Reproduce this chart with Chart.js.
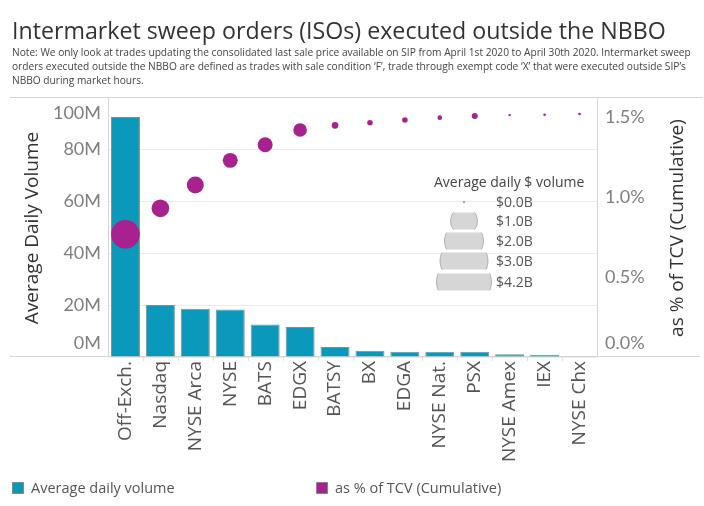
<!DOCTYPE html>
<html>
<head>
<meta charset="utf-8">
<script src="https://cdn.jsdelivr.net/npm/chart.js@4.4.1/dist/chart.umd.min.js"></script>
<style>
  html, body { margin:0; padding:0; background:#fff; }
  #wrap { position:relative; width:704px; height:506px; overflow:hidden; font-family:"Open Sans", Lato, sans-serif; }
  #c { position:absolute; left:0; top:0; }
  #title { position:absolute; left:12px; top:14px; font-size:23.2px; color:#333; white-space:nowrap; }
  #note { position:absolute; left:12px; top:45px; font-size:10.18px; line-height:14px; color:#444; white-space:nowrap; }
  .lg { position:absolute; top:478px; font-size:14.5px; color:#555; white-space:nowrap; }
  .sw { display:inline-block; width:10px; height:10px; border:1px solid #888; vertical-align:-1px; margin-right:7px; }
</style>
</head>
<body>
<div id="wrap">
  <canvas id="c" width="704" height="506"></canvas>
  <div id="title">Intermarket sweep orders (ISOs) executed outside the NBBO</div>
  <div id="note">Note: We only look at trades updating the consolidated last sale price available on SIP from April 1st 2020 to April 30th 2020. Intermarket sweep<br>orders executed outside the NBBO are defined as trades with sale condition ‘F’, trade through exempt code ‘X’ that were executed outside SIP’s<br>NBBO during market hours.</div>
  <div class="lg" style="left:12px"><span class="sw" style="background:#0a99bb"></span>Average daily volume</div>
  <div class="lg" style="left:316px"><span class="sw" style="background:#a8228f"></span>as % of TCV (Cumulative)</div>
</div>
<script>
// ---- data ----
const categories = ["Off-Exch.","Nasdaq","NYSE Arca","NYSE","BATS","EDGX","BATSY","BX","EDGA","NYSE Nat.","PSX","NYSE Amex","IEX","NYSE Chx"];
const avgDailyVolumeM = [92.3, 20.0, 18.6, 18.3, 12.5, 11.5, 3.8, 2.4, 2.0, 2.0, 2.0, 1.1, 0.9, 0.05];
const cumulativePctTCV = [0.767, 0.929, 1.075, 1.229, 1.327, 1.419, 1.448, 1.464, 1.481, 1.496, 1.506, 1.512, 1.514, 1.519];
const avgDailyDollarVolumeB = [4.2, 1.6, 1.48, 1.15, 1.15, 0.95, 0.23, 0.16, 0.16, 0.11, 0.19, 0.02, 0.036, 0.036];
const leftTickValuesM = [0, 20, 40, 60, 80, 100];
const leftTickLabels = ["0M","20M","40M","60M","80M","100M"];
const rightTickValues = [0, 0.5, 1.0, 1.5];
const rightTickLabels = ["0.0%","0.5%","1.0%","1.5%"];
const sizeLegendValuesB = [0.0, 1.0, 2.0, 3.0, 4.2];
const sizeLegendLabels = ["$0.0B","$1.0B","$2.0B","$3.0B","$4.2B"];

const BAR = '#0a99bb', DOT = '#a8228f';
const MAXR = 14.3, MAXB = 4.2;
const radii = avgDailyDollarVolumeB.map(v => Math.max(1.2, MAXR * Math.sqrt(v / MAXB)));

const AREA = {left:108, right:597, top:97, bottom:357};

const decor = {
  id: 'decor',
  beforeDatasetsDraw(chart) {
    const ctx = chart.ctx, a = chart.chartArea;
    ctx.save();
    ctx.strokeStyle = '#d6d6d6'; ctx.lineWidth = 1;
    ctx.beginPath();
    ctx.moveTo(10, a.top + 0.5); ctx.lineTo(703, a.top + 0.5);
    ctx.moveTo(10, a.bottom - 0.5); ctx.lineTo(700, a.bottom - 0.5);
    ctx.moveTo(a.left + 0.5, a.top); ctx.lineTo(a.left + 0.5, a.bottom);
    ctx.moveTo(a.right + 0.5, a.top); ctx.lineTo(a.right + 0.5, a.bottom);
    ctx.stroke();
    const xs = chart.scales.x;
    ctx.strokeStyle = '#e2e2e2';
    ctx.beginPath();
    for (let i = 1; i < categories.length; i++) {
      const x = Math.round((xs.getPixelForTick(i - 1) + xs.getPixelForTick(i)) / 2) + 0.5;
      ctx.moveTo(x, a.bottom); ctx.lineTo(x, a.bottom + 4);
    }
    ctx.stroke();
    ctx.restore();
  },
  afterDraw(chart) {
    const ctx = chart.ctx, a = chart.chartArea;
    const y = chart.scales.y, y1 = chart.scales.y1;
    ctx.save();
    ctx.font = '18px Lato'; ctx.fillStyle = '#7f7f7f'; ctx.textBaseline = 'middle';
    ctx.textAlign = 'right';
    leftTickValuesM.forEach((v, i) => {
      let py = y.getPixelForValue(v);
      py = Math.min(Math.max(py, a.top + 16), a.bottom - 14);
      ctx.fillText(leftTickLabels[i], 101, py);
    });
    ctx.textAlign = 'left';
    rightTickValues.forEach((v, i) => {
      let py = y1.getPixelForValue(v);
      py = Math.min(Math.max(py, a.top + 16), a.bottom - 14);
      ctx.fillText(rightTickLabels[i], 605, py);
    });
    ctx.fillStyle = '#333'; ctx.font = '19px "Open Sans"'; ctx.textAlign = 'center';
    ctx.save(); ctx.translate(33, 228); ctx.rotate(-Math.PI / 2); ctx.fillText('Average Daily Volume', 0, 0); ctx.restore();
    ctx.save(); ctx.translate(678, 228); ctx.rotate(-Math.PI / 2); ctx.fillText('as % of TCV (Cumulative)', 0, 0); ctx.restore();
    // size legend
    ctx.textAlign = 'left'; ctx.fillStyle = '#444'; ctx.font = '14px "Open Sans"';
    ctx.fillText('Average daily $ volume', 434, 183);
    const rowsY = [202, 221, 241, 261, 282];
    const halfW = [0, 13.5, 19.5, 24, 27.5];
    ctx.font = '14px "Open Sans"';
    sizeLegendValuesB.forEach((v, i) => {
      const cy = rowsY[i], cx = 464;
      if (i === 0) {
        ctx.fillStyle = '#aaa'; ctx.beginPath(); ctx.arc(cx, cy, 1.2, 0, Math.PI * 2); ctx.fill();
      } else {
        const r = halfW[i];
        ctx.save();
        ctx.beginPath(); ctx.rect(cx - r - 2, cy - 8.5, 2 * r + 4, 17); ctx.clip();
        ctx.beginPath(); ctx.ellipse(cx, cy, r, r * 0.75 + 4, 0, 0, Math.PI * 2);
        ctx.fillStyle = '#d6d6d6'; ctx.fill();
        ctx.strokeStyle = '#b0b0b0'; ctx.lineWidth = 1; ctx.stroke();
        ctx.restore();
      }
      ctx.fillStyle = '#555';
      ctx.fillText(sizeLegendLabels[i], 496, cy + 1);
    });
    ctx.restore();
  }
};

new Chart(document.getElementById('c'), {
  data: {
    labels: categories,
    datasets: [
      {
        type: 'line', label: 'as % of TCV (Cumulative)', data: cumulativePctTCV, yAxisID: 'y1',
        showLine: false, pointRadius: radii, pointHoverRadius: radii,
        pointBackgroundColor: DOT, pointBorderWidth: 0, backgroundColor: DOT, borderColor: DOT,
        order: 0, clip: false
      },
      {
        type: 'bar', label: 'Average daily volume', data: avgDailyVolumeM, yAxisID: 'y',
        backgroundColor: BAR, borderColor: '#8a8a8a', borderWidth: 1,
        barPercentage: 0.83, categoryPercentage: 1.0, order: 1
      }
    ]
  },
  options: {
    responsive: false, animation: false, devicePixelRatio: 1,
    layout: { padding: { top: AREA.top, left: 0, right: 0, bottom: 0 } },
    plugins: { legend: { display: false }, title: { display: false }, tooltip: { enabled: false } },
    scales: {
      x: {
        offset: true,
        grid: { display: false, drawTicks: false }, border: { display: false },
        ticks: { minRotation: 90, maxRotation: 90, autoSkip: false, padding: 4, color: '#555', font: { family: 'Open Sans', size: 19 } },
        afterFit(s) { s.height = 506 - AREA.bottom; }
      },
      y: {
        position: 'left', min: 0, max: 100, afterBuildTicks(s) { s.ticks = leftTickValuesM.map(v => ({value: v})); },
        grid: { color: '#ececec', drawTicks: false }, border: { display: false },
        ticks: { display: false },
        afterFit(s) { s.width = AREA.left; }
      },
      y1: {
        position: 'right', min: 0, max: 1.625,
        grid: { display: false, drawTicks: false }, border: { display: false },
        ticks: { display: false },
        afterFit(s) { s.width = 704 - AREA.right; }
      }
    }
  },
  plugins: [decor]
});
</script>
</body>
</html>
